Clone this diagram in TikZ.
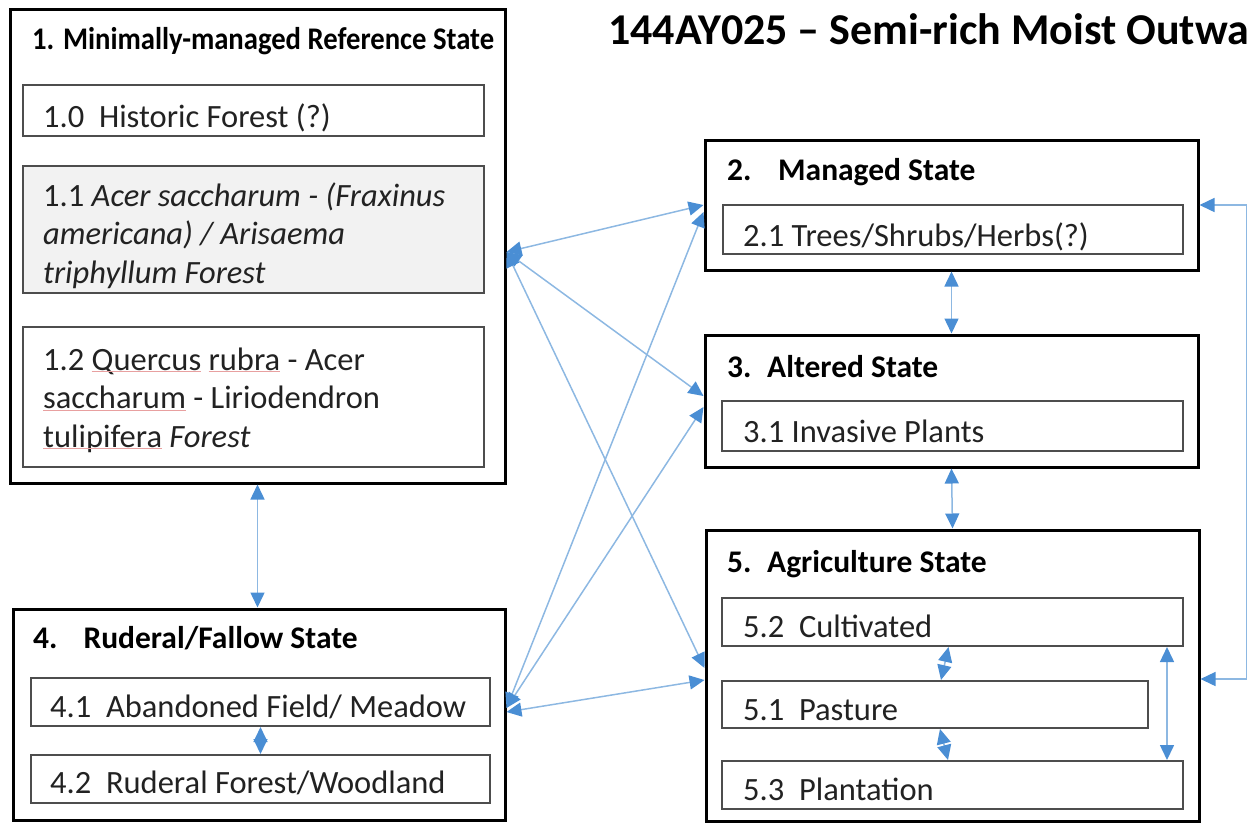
\documentclass[tikz,border=0pt]{standalone}
\usepackage{fontspec}
\setmainfont{Carlito}
\usetikzlibrary{arrows.meta}
\definecolor{linkblue}{HTML}{8DB8E2}
\definecolor{headblue}{HTML}{4A8ED4}
\definecolor{subgray}{HTML}{4D4D4D}
\definecolor{fillgray}{HTML}{F2F2F2}
\definecolor{textcol}{HTML}{222222}
\definecolor{spellred}{HTML}{E8A0A0}
\newcommand\spell[1]{{\color{spellred}\underline{\smash{\color{textcol}#1}}}}
\newcommand\bodyfont{\fontsize{32.5}{38.5}\selectfont}
\newcommand\headfont{\bfseries\fontsize{31.5}{38}\selectfont}
\tikzset{
  statebox/.style={draw=black, line width=3pt, inner sep=0pt, fill=white},
  subbox/.style={draw=subgray, line width=2pt, inner sep=0pt, fill=white},
  ttl/.style={font=\headfont, text=black, inner sep=0pt, anchor=base west},
  txt/.style={font=\bodyfont, text=textcol, inner sep=0pt, anchor=base west},
  link/.style={draw=linkblue, line width=1.5pt,
    {Triangle[length=15pt,width=14pt,color=headblue]}-{Triangle[length=15pt,width=14pt,color=headblue]}},
}
\begin{document}
\begin{tikzpicture}[x=1pt,y=-1pt]
\useasboundingbox (0,0) rectangle (1249,823);
\clip (0,0) rectangle (1249,823);

% title
\node[inner sep=0pt, anchor=base west, font=\bfseries\fontsize{44}{52}\selectfont, text=black] (title) at (608,44) {144AY025 – Semi-rich Moist Outwa};

% state 1
\node[statebox, minimum width=495pt, minimum height=474pt] (s1) at (257.5,246) {};
\node[ttl] (t1) at (32,49) {\scalebox{0.91}[1]{1. Minimally-managed Reference State}};
\node[subbox, minimum width=461pt, minimum height=51pt] (b10) at (253.5,110.5) {};
\node[txt] (t10) at (43,127) {1.0~ Historic Forest (?)};
\node[subbox, fill=fillgray, minimum width=461pt, minimum height=127pt] (b11) at (253.5,229.5) {};
\node[txt, align=left] (t11) at (43,283) {1.1 \textit{Acer saccharum - (Fraxinus}\\\textit{americana) / Arisaema}\\\textit{triphyllum Forest}};
\node[subbox, minimum width=461pt, minimum height=140pt] (b12) at (253.5,397) {};
\node[txt, align=left] (t12) at (43,447) {1.2 \spell{Quercus} \spell{rubra} - Acer\\\spell{saccharum} - Liriodendron\\\spell{tulipifera} \textit{Forest}};

% state 4
\node[statebox, minimum width=492pt, minimum height=211pt] (s4) at (259,714.5) {};
\node[ttl] (t4) at (33,648) {4.\hspace{26pt}Ruderal/Fallow State};
\node[subbox, minimum width=459pt, minimum height=48pt] (b41) at (260.5,702) {};
\node[txt] (t41) at (50,717) {4.1~ Abandoned Field/ Meadow};
\node[subbox, minimum width=459pt, minimum height=48pt] (b42) at (260.5,779) {};
\node[txt] (t42) at (50,793) {4.2~ Ruderal Forest/Woodland};

% state 2
\node[statebox, minimum width=493pt, minimum height=130pt] (s2) at (951.5,205) {};
\node[ttl] (t2) at (727,180) {2.\hspace{26.6pt}Managed State};
\node[subbox, minimum width=460pt, minimum height=49pt] (b21) at (953,229.5) {};
\node[txt] (t21) at (743,246) {2.1 Trees/Shrubs/Herbs(?)};

% state 3
\node[statebox, minimum width=493pt, minimum height=132pt] (s3) at (951.5,401) {};
\node[ttl] (t3) at (727,377) {3.\hspace{15.6pt}Altered State};
\node[subbox, minimum width=461pt, minimum height=50pt] (b31) at (952.5,426) {};
\node[txt] (t31) at (743,442) {3.1 Invasive Plants};

% state 5
\node[statebox, minimum width=493pt, minimum height=291pt] (s5) at (952.5,675.5) {};
\node[ttl] (t5) at (727,572) {5.\hspace{15.6pt}Agriculture State};
\node[subbox, minimum width=461pt, minimum height=48pt] (b52) at (952.5,622) {};
\node[txt] (t52) at (743,637) {5.2~ Cultivated};
\node[subbox, minimum width=426pt, minimum height=47pt] (b51) at (935,704.5) {};
\node[txt] (t51) at (743,720) {5.1~ Pasture};
\node[subbox, minimum width=461pt, minimum height=48pt] (b53) at (952.5,785) {};
\node[txt] (t53) at (743,800) {5.3~ Plantation};

% connectors between states
\draw[link] ([yshift=-6pt]s1.east) -- (s2.west);
\draw[link] ([yshift=-6pt]s1.east) -- ([yshift=5pt]s3.west);
\draw[link] ([yshift=-6pt]s1.east) -- ([yshift=7.5pt]s5.west);
\draw[link] ([yshift=6.5pt]s4.east) -- ([yshift=-7pt]s2.west);
\draw[link] ([yshift=6.5pt]s4.east) -- ([yshift=-6pt]s3.west);
\draw[link] ([yshift=2.5pt]s4.east) -- ([yshift=-4.5pt]s5.west);
\draw[link] (s1.south) -- (s1.south |- s4.north);
\draw[link] (s2.south) -- (s3.north);
\draw[link] (s3.south) -- (s5.north);
\draw[link] (b41.south) -- (b42.north);
\draw[link] ([xshift=-4pt]b52.south) -- ([xshift=6pt]b51.north);
\draw[link] ([xshift=5pt]b51.south) -- ([xshift=-4.5pt]b53.north);
\draw[link] ([xshift=214.5pt]b52.south) -- ([xshift=214.5pt]b53.north);
\draw[link] ([yshift=-3.5pt]s5.east) -- ++(46,0) |- (s2.east);
\end{tikzpicture}
\end{document}
